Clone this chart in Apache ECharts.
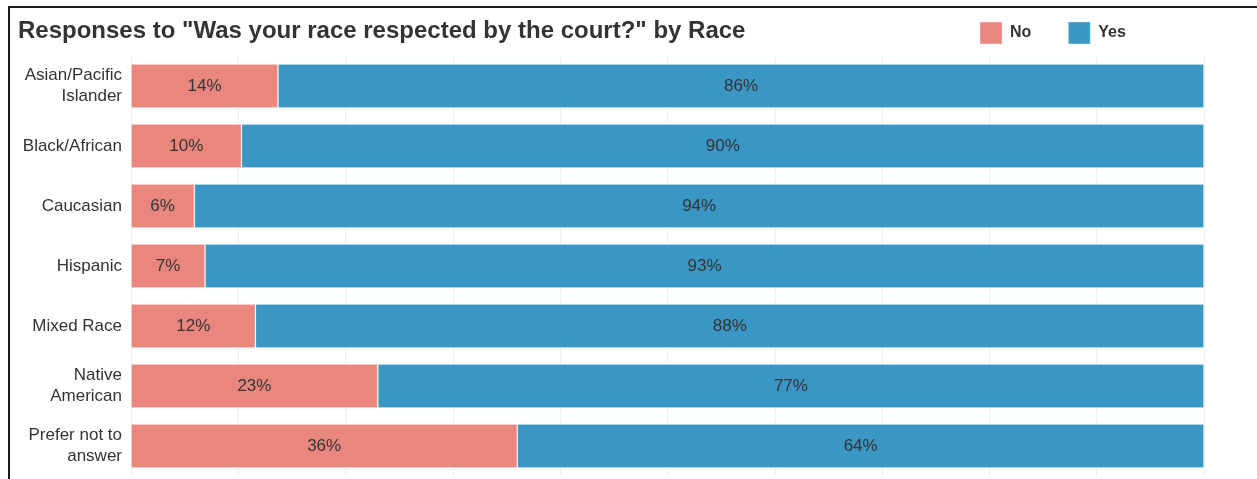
<!DOCTYPE html>
<html>
<head>
<meta charset="utf-8">
<script src="https://cdn.jsdelivr.net/npm/echarts@6/dist/echarts.min.js"></script>
<style>
  html, body { margin: 0; padding: 0; background: #fff; }
  #frame {
    position: absolute; left: 8px; top: 6px; right: 0; bottom: 0;
    border-top: 2px solid #1a1a1a; border-left: 2px solid #1a1a1a;
  }
  #chart { position: absolute; left: 0; top: 0; width: 1257px; height: 479px; }
</style>
</head>
<body>
<div id="frame"></div>
<div id="chart"></div>
<script>
const races = [
  "Asian/Pacific\nIslander",
  "Black/African",
  "Caucasian",
  "Hispanic",
  "Mixed Race",
  "Native\nAmerican",
  "Prefer not to\nanswer"
];
const noShare = [13.7, 10.3, 5.9, 6.9, 11.6, 23.0, 36.0];
const yesShare = [86.3, 89.7, 94.1, 93.1, 88.4, 77.0, 64.0];

const font = "Arial, 'Liberation Sans', sans-serif";

const chart = echarts.init(document.getElementById("chart"));

const barLabel = {
  show: true,
  position: "inside",
  color: "#333",
  fontFamily: font,
  fontSize: 17,
  formatter: p => Math.round(p.value) + "%"
};

chart.setOption({
  animation: false,
  title: {
    text: 'Responses to "Was your race respected by the court?" by Race',
    left: 18,
    top: 19,
    padding: 0,
    textStyle: { fontFamily: font, fontSize: 24, fontWeight: "bold", color: "#333" }
  },
  legend: {
    data: ["No", "Yes"],
    left: 979,
    top: 21,
    padding: 0,
    icon: "rect",
    itemWidth: 22,
    itemHeight: 22,
    itemGap: 36,
    textStyle: { fontFamily: font, fontSize: 16, fontWeight: "bold", color: "#333", padding: [0, 0, 0, 3] }
  },
  grid: { left: 131, right: 53, top: 56, bottom: 3, containLabel: false },
  xAxis: {
    type: "value",
    min: 0,
    max: 100,
    interval: 10,
    axisLabel: { show: false },
    axisLine: { show: false },
    axisTick: { show: false },
    splitLine: { show: true, lineStyle: { color: "#eeeeee", width: 1 } }
  },
  yAxis: {
    type: "category",
    inverse: true,
    data: races,
    axisLine: { show: true, lineStyle: { color: "#f0f0f0" } },
    axisTick: { show: false },
    axisLabel: {
      margin: 9,
      fontFamily: font,
      fontSize: 17,
      lineHeight: 21,
      color: "#333",
      align: "right"
    }
  },
  series: [
    {
      name: "No",
      type: "bar",
      stack: "all",
      barWidth: 44,
      data: noShare,
      itemStyle: { color: "#e9877f", borderColor: "rgba(255,255,255,0.2)", borderWidth: 1 },
      label: barLabel
    },
    {
      name: "Yes",
      type: "bar",
      stack: "all",
      barWidth: 44,
      data: yesShare,
      itemStyle: { color: "#3a96c4", borderColor: "rgba(255,255,255,0.2)", borderWidth: 1 },
      label: barLabel
    }
  ]
});
</script>
</body>
</html>
